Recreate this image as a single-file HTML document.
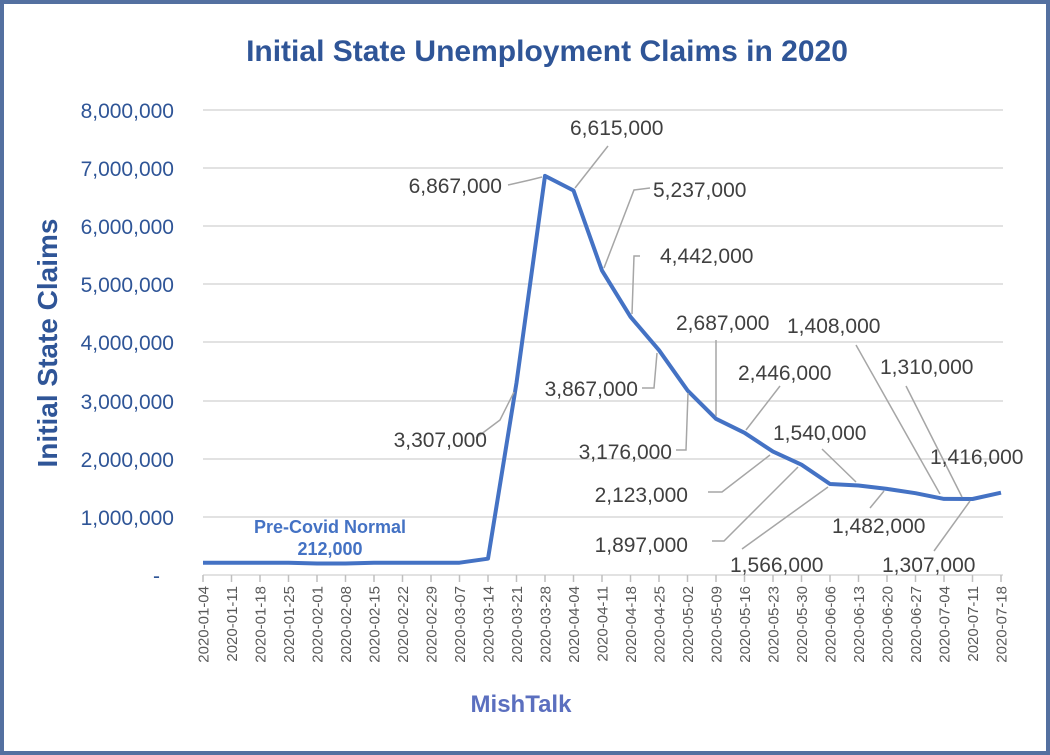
<!DOCTYPE html>
<html><head><meta charset="utf-8"><style>
html,body{margin:0;padding:0;background:#fff}
svg{display:block}
text{font-family:"Liberation Sans",Arial,sans-serif}
</style></head><body>
<svg width="1050" height="755" viewBox="0 0 1050 755" xmlns="http://www.w3.org/2000/svg">
<rect x="2" y="2" width="1046" height="751" fill="#fff" stroke="#5470A0" stroke-width="4"/>
<text x="547" y="61" text-anchor="middle" font-size="30" font-weight="bold" fill="#2F5597">Initial State Unemployment Claims in 2020</text>
<g stroke="#d9d9d9" stroke-width="1.5">
<line x1="203" y1="110" x2="1003" y2="110"/><line x1="203" y1="168" x2="1003" y2="168"/>
<line x1="203" y1="226" x2="1003" y2="226"/><line x1="203" y1="284" x2="1003" y2="284"/>
<line x1="203" y1="342" x2="1003" y2="342"/><line x1="203" y1="401" x2="1003" y2="401"/>
<line x1="203" y1="459" x2="1003" y2="459"/><line x1="203" y1="517" x2="1003" y2="517"/>
<line x1="203" y1="575" x2="1003" y2="575"/>
</g>
<g font-size="21" fill="#2F5597" text-anchor="end">
<text x="174" y="118">8,000,000</text><text x="174" y="176">7,000,000</text>
<text x="174" y="234">6,000,000</text><text x="174" y="292">5,000,000</text>
<text x="174" y="350">4,000,000</text><text x="174" y="409">3,000,000</text>
<text x="174" y="467">2,000,000</text><text x="174" y="525">1,000,000</text>
<text x="160" y="583">-</text>
</g>
<text transform="translate(57,343) rotate(-90)" text-anchor="middle" font-size="28" font-weight="bold" fill="#2F5597">Initial  State Claims</text>
<g id="ticks" stroke="#bfbfbf" stroke-width="1.5"></g>
<g id="xl" font-size="15" fill="#595959"></g>
<polyline fill="none" stroke="#4472C4" stroke-width="4" stroke-linejoin="round" points="203,562.7 231.5,562.7 260,562.7 288.5,562.7 317,563.5 345.5,563.5 374,562.7 402.5,562.7 431,562.7 459.5,562.7 488,558.7 516.5,382.8 545,175.9 573.5,190.5 602,270.6 630.5,316.8 659,350.2 687.5,390.4 716,418.8 744.5,432.8 773,451.6 801.5,464.7 830,484 858.5,485.5 887,488.9 915.5,493.2 944,498.9 972.5,499 1001,492.7"/>
<g stroke="#a6a6a6" stroke-width="1.5" fill="none">
<polyline points="476,438 500,420 514,392"/>
<polyline points="508,185 530,180 542,177"/>
<polyline points="575,188 608,146"/>
<polyline points="604,268 634,190 650,188"/>
<polyline points="632,314 634,256 640,256"/>
<polyline points="642,388 654,388 657,353"/>
<polyline points="716,416 716,340"/>
<polyline points="676,450 686,450 688,393"/>
<polyline points="746,430 780,386"/>
<polyline points="708,492 722,492 770,455"/>
<polyline points="822,449 856,482"/>
<polyline points="712,541 724,541 798,467"/>
<polyline points="856,345 940,494"/>
<polyline points="742,549 828,487"/>
<polyline points="906,386 962,497"/>
<polyline points="870,508 884,491"/>
<polyline points="934,551 970,501"/>
</g>
<g font-size="21" fill="#404040">
<text x="487" y="447" text-anchor="end">3,307,000</text>
<text x="502" y="193" text-anchor="end">6,867,000</text>
<text x="570" y="135">6,615,000</text>
<text x="653" y="197">5,237,000</text>
<text x="660" y="263">4,442,000</text>
<text x="638" y="396" text-anchor="end">3,867,000</text>
<text x="676" y="330">2,687,000</text>
<text x="672" y="459" text-anchor="end">3,176,000</text>
<text x="738" y="380">2,446,000</text>
<text x="688" y="502" text-anchor="end">2,123,000</text>
<text x="773" y="440">1,540,000</text>
<text x="688" y="552" text-anchor="end">1,897,000</text>
<text x="787" y="333">1,408,000</text>
<text x="730" y="572">1,566,000</text>
<text x="880" y="374">1,310,000</text>
<text x="832" y="533">1,482,000</text>
<text x="930" y="464">1,416,000</text>
<text x="882" y="572">1,307,000</text>
</g>
<text x="330" y="533" text-anchor="middle" font-size="18" font-weight="bold" fill="#4472C4">Pre-Covid Normal</text>
<text x="330" y="555" text-anchor="middle" font-size="18" font-weight="bold" fill="#4472C4">212,000</text>
<text x="521" y="712" text-anchor="middle" font-size="24" font-weight="bold" fill="#5B6FBF">MishTalk</text>
<script>
var d=["01-04","01-11","01-18","01-25","02-01","02-08","02-15","02-22","02-29","03-07","03-14","03-21","03-28","04-04","04-11","04-18","04-25","05-02","05-09","05-16","05-23","05-30","06-06","06-13","06-20","06-27","07-04","07-11","07-18"];
var t=document.getElementById('ticks'),l=document.getElementById('xl'),n="http://www.w3.org/2000/svg";
for(var i=0;i<29;i++){var x=203+28.5*i;
var ln=document.createElementNS(n,'line');ln.setAttribute('x1',x);ln.setAttribute('x2',x);ln.setAttribute('y1',575);ln.setAttribute('y2',582);t.appendChild(ln);
var tx=document.createElementNS(n,'text');tx.setAttribute('transform','translate('+(x+5.5)+',586) rotate(-90)');tx.setAttribute('text-anchor','end');tx.textContent='2020-'+d[i];l.appendChild(tx);}
</script>
</svg>
</body></html>
